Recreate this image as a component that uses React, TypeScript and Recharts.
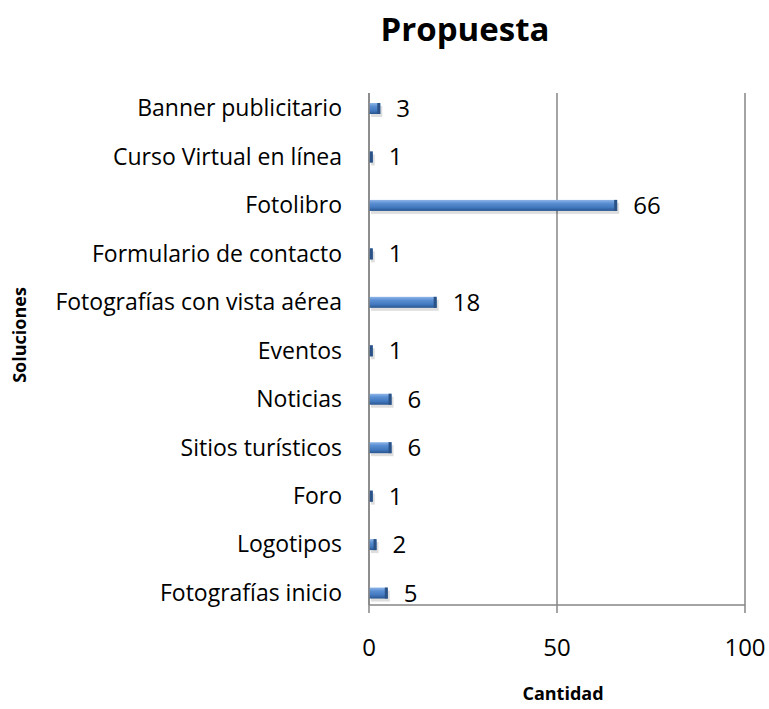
import React from 'react';
import { BarChart, Bar, XAxis, YAxis, CartesianGrid, LabelList } from 'recharts';

// Categories from top to bottom, as they appear in the chart
const categories: string[] = [
  'Banner publicitario',
  'Curso Virtual en línea',
  'Fotolibro',
  'Formulario de contacto',
  'Fotografías con vista aérea',
  'Eventos',
  'Noticias',
  'Sitios turísticos',
  'Foro',
  'Logotipos',
  'Fotografías inicio',
];

const cantidades: number[] = [3, 1, 66, 1, 18, 1, 6, 6, 1, 2, 5];

const xTicks: number[] = [0, 50, 100];

const data = categories.map((name, i) => ({ name, cantidad: cantidades[i] }));

const FONT = '"Open Sans", sans-serif';

// cylinder-ish bar like the Excel 3D style
const BarShape = (props: any) => {
  const { x, y, width, height } = props;
  if (!width || width <= 0) return null;
  return (
    <g>
      <rect x={x + 2} y={y + 3} width={width} height={height} fill="#000" opacity={0.13} />
      <rect x={x} y={y} width={width} height={height} fill="url(#barGrad)" />
      <rect x={x + width - 3} y={y} width={3} height={height} fill="#2b5286" />
    </g>
  );
};

const App = () => {
  return (
    <div style={{ position: 'absolute', left: 0, top: 0, width: 769, height: 709 }}>
      <div
        style={{
          position: 'absolute',
          left: 465,
          top: 6,
          transform: 'translateX(-50%)',
          fontFamily: FONT,
          fontWeight: 700,
          fontSize: 33,
          color: '#000',
          whiteSpace: 'nowrap',
        }}
      >
        Propuesta
      </div>
      <BarChart
        width={769}
        height={709}
        data={data}
        layout="vertical"
        margin={{ top: 93, right: 24, bottom: 44, left: 10 }}
        barSize={11}
      >
        <defs>
          <linearGradient id="barGrad" x1="0" y1="0" x2="0" y2="1">
            <stop offset="0%" stopColor="#8fb6e8" />
            <stop offset="30%" stopColor="#5b8fd3" />
            <stop offset="70%" stopColor="#4177bd" />
            <stop offset="100%" stopColor="#27548f" />
          </linearGradient>
        </defs>
        <CartesianGrid horizontal={false} vertical={true} stroke="#868686" strokeWidth={1.5} />
        <XAxis
          type="number"
          domain={[0, 100]}
          ticks={xTicks}
          height={60}
          stroke="#868686"
          strokeWidth={1.5}
          tickSize={8}
          tickMargin={26}
          tick={{ fill: '#000', fontSize: 24, fontFamily: FONT }}
          label={{
            content: (p: any) => {
              const vb = p.viewBox;
              return (
                <text
                  x={vb.x + vb.width / 2 + 6}
                  y={vb.y + 90}
                  textAnchor="middle"
                  dominantBaseline="middle"
                  fontFamily={FONT}
                  fontWeight={700}
                  fontSize={18}
                  fill="#000"
                >
                  Cantidad
                </text>
              );
            },
          }}
        />
        <YAxis
          type="category"
          dataKey="name"
          width={359}
          padding={{ top: -9, bottom: -12 }}
          stroke="#868686"
          strokeWidth={1.5}
          tickLine={false}
          tickSize={0}
          tickMargin={27}
          interval={0}
          tick={{ fill: '#000', fontSize: 23, fontFamily: FONT }}
          label={{
            content: (p: any) => {
              const vb = p.viewBox;
              const cx = vb.x + 11;
              const cy = vb.y + vb.height / 2 - 14;
              return (
                <text
                  x={cx}
                  y={cy}
                  transform={`rotate(-90 ${cx} ${cy})`}
                  textAnchor="middle"
                  dominantBaseline="middle"
                  fontFamily={FONT}
                  fontWeight={700}
                  fontSize={18}
                  fill="#000"
                >
                  Soluciones
                </text>
              );
            },
          }}
        />
        <Bar dataKey="cantidad" shape={<BarShape />} isAnimationActive={false}>
          <LabelList
            dataKey="cantidad"
            position="right"
            offset={16}
            fill="#000"
            fontSize={24}
            fontFamily={FONT}
          />
        </Bar>
      </BarChart>
    </div>
  );
};

export default App;
